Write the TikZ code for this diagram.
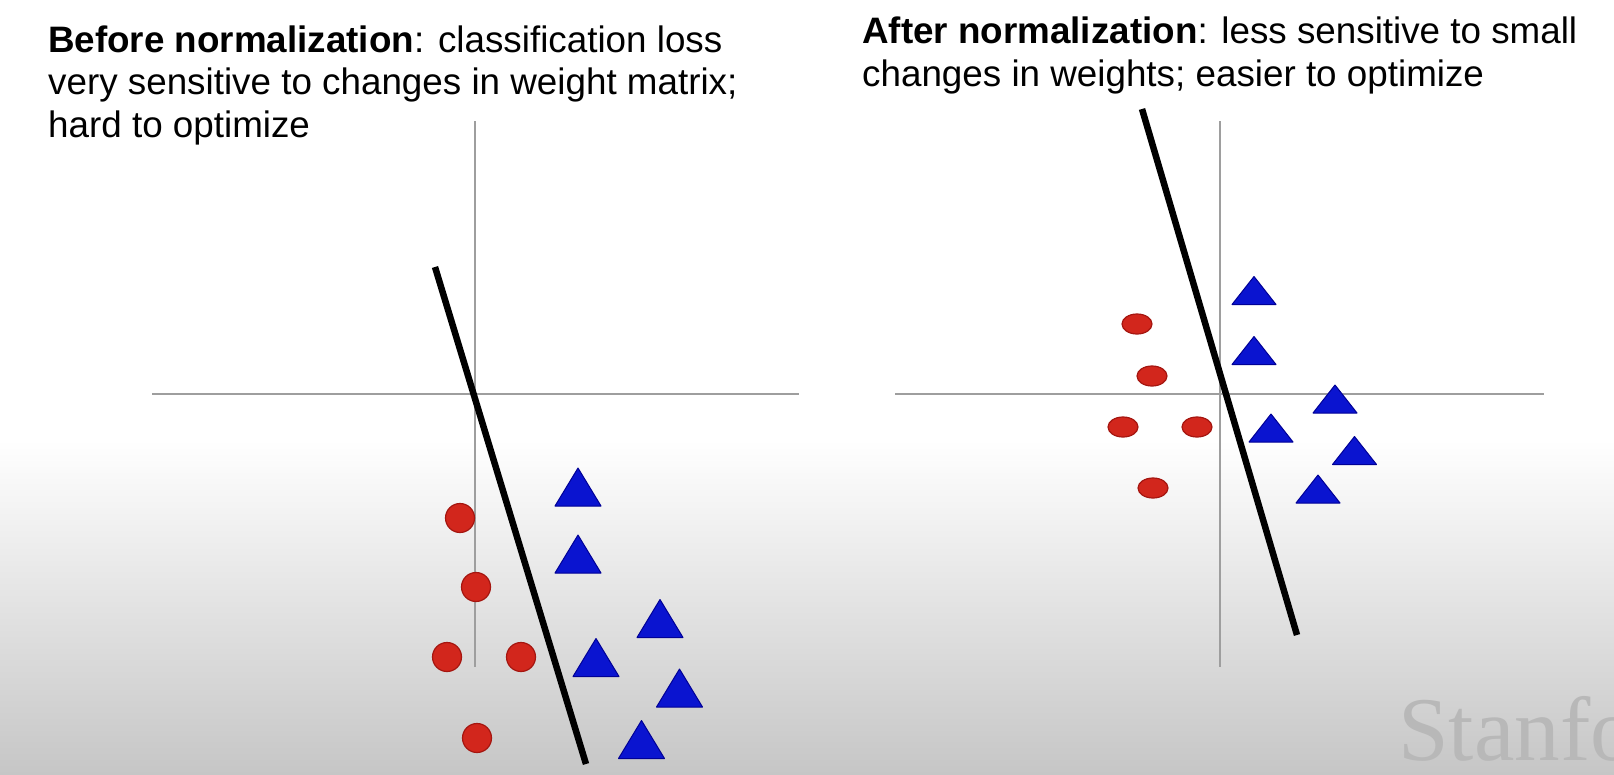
\documentclass[tikz,border=0pt]{standalone}
\usepackage{fontspec}
\setmainfont{Liberation Sans}
\newfontfamily\wmfont{Liberation Serif}
\usetikzlibrary{shapes.geometric}
\definecolor{dotred}{RGB}{210,38,28}
\definecolor{dotedge}{RGB}{165,22,16}
\definecolor{triblue}{RGB}{10,20,208}
\definecolor{triedge}{RGB}{0,0,150}
\definecolor{axisgray}{RGB}{158,158,158}
\definecolor{bggray}{RGB}{198,198,198}
\definecolor{wmgray}{RGB}{184,184,184}
\begin{document}
\begin{tikzpicture}[x=1pt,y=-1pt,
  axis/.style={axisgray, line width=2pt},
  sepline/.style={black, line width=6.5pt},
  dot/.style={circle, fill=dotred, draw=dotedge, line width=1.2pt, minimum size=29pt, inner sep=0pt},
  edot/.style={ellipse, fill=dotred, draw=dotedge, line width=1.2pt, minimum width=30pt, minimum height=20pt, inner sep=0pt},
  bigtri/.pic={\filldraw[fill=triblue, draw=triedge, line width=1pt, line join=round] (-23,19) -- (0,-19) -- (23,19) -- cycle;},
  flattri/.pic={\filldraw[fill=triblue, draw=triedge, line width=1pt, line join=round] (-22,14) -- (0,-14) -- (22,14) -- cycle;},
  caption/.style={anchor=base west, align=left, font=\fontsize{36.8}{42.5}\selectfont, inner sep=0pt}
]
\useasboundingbox (0,0) rectangle (1614,774);
\clip (0,0) rectangle (1614,774);
% background
\fill[white] (0,0) rectangle (1614,774);
\shade[top color=white, bottom color=bggray] (0,440) rectangle (1614,774);
% watermark
\node[anchor=base west, font=\wmfont\fontsize{91}{91}\selectfont, text=wmgray, inner sep=0pt] (wm) at (1398,760) {Stanford};
% captions (anchor = baseline of last line)
\node[caption] (capL) at (48,137) {\textbf{Before normalization}: classification loss\\very sensitive to changes in weight matrix;\\hard to optimize};
\node[caption] (capR) at (862,86) {\textbf{After normalization}: less sensitive to small\\changes in weights; easier to optimize};
% left panel axes
\coordinate (Lxa) at (152,394); \coordinate (Lxb) at (799,394);
\coordinate (Lya) at (475,121); \coordinate (Lyb) at (475,667);
\draw[axis] (Lxa) -- (Lxb);
\draw[axis] (Lya) -- (Lyb);
\coordinate (Lsa) at (435,267); \coordinate (Lsb) at (586,764);
\draw[sepline] (Lsa) -- (Lsb);
% right panel axes
\coordinate (Rxa) at (895,394); \coordinate (Rxb) at (1544,394);
\coordinate (Rya) at (1220,121); \coordinate (Ryb) at (1220,667);
\draw[axis] (Rxa) -- (Rxb);
\draw[axis] (Rya) -- (Ryb);
\coordinate (Rsa) at (1142,109); \coordinate (Rsb) at (1297,635);
\draw[sepline] (Rsa) -- (Rsb);
% left markers
\node[dot] (lc1) at (460,518) {};
\node[dot] (lc2) at (476,587) {};
\node[dot] (lc3) at (447,657) {};
\node[dot] (lc4) at (521,657) {};
\node[dot] (lc5) at (477,738) {};
\pic (lt1) at (578,487) {bigtri};
\pic (lt2) at (578,554) {bigtri};
\pic (lt3) at (660,618.5) {bigtri};
\pic (lt4) at (596,657.5) {bigtri};
\pic (lt5) at (679.5,688) {bigtri};
\pic (lt6) at (641.5,739.5) {bigtri};
% right markers
\node[edot] (rc1) at (1137,324) {};
\node[edot] (rc2) at (1152,376) {};
\node[edot] (rc3) at (1123,427) {};
\node[edot] (rc4) at (1197,427) {};
\node[edot] (rc5) at (1153,488) {};
\pic (rt1) at (1254,290.5) {flattri};
\pic (rt2) at (1254,350.5) {flattri};
\pic (rt3) at (1335,399) {flattri};
\pic (rt4) at (1271,428) {flattri};
\pic (rt5) at (1354.5,450.5) {flattri};
\pic (rt6) at (1318,489) {flattri};
\end{tikzpicture}
\end{document}
